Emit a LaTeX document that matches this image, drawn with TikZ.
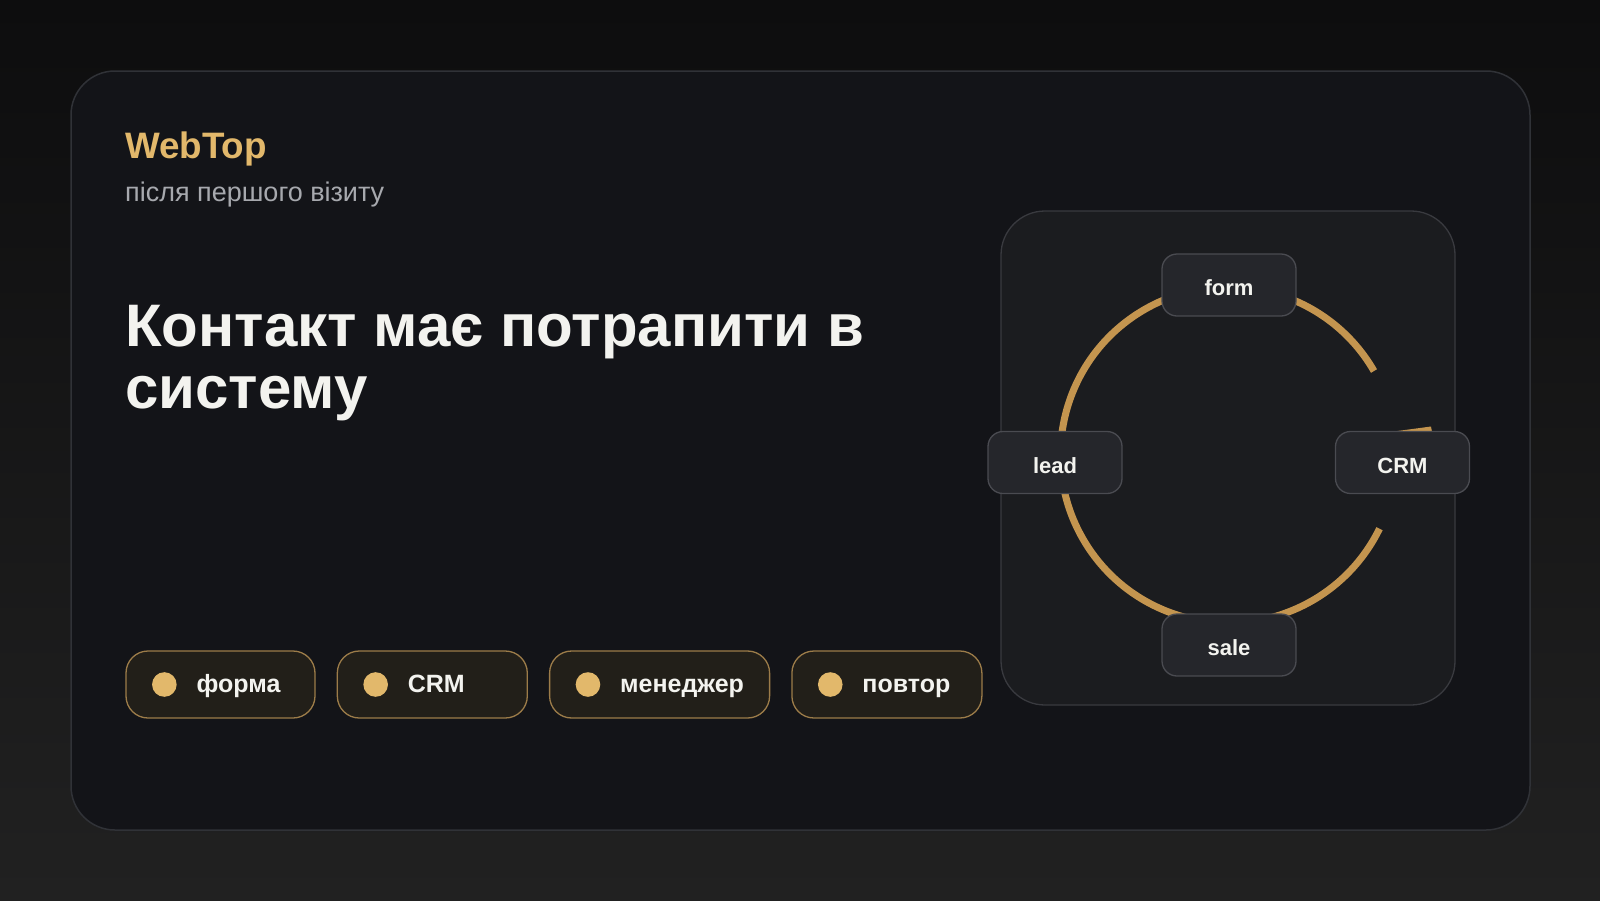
\documentclass[tikz,border=0pt]{standalone}
\usepackage{fontspec}
\setmainfont{Liberation Sans}
\usepackage{tikz}
\usetikzlibrary{calc,positioning}
\definecolor{bgtop}{HTML}{0D0D0E}
\definecolor{bgbot}{HTML}{212121}
\definecolor{cardfill}{HTML}{131418}
\definecolor{cardline}{HTML}{303237}
\definecolor{gold}{HTML}{E2B86B}
\definecolor{ringgold}{HTML}{C4954F}
\definecolor{chipfill}{HTML}{221F19}
\definecolor{chipline}{HTML}{9C7C49}
\definecolor{panelfill}{HTML}{1B1C1F}
\definecolor{panelline}{HTML}{393A3F}
\definecolor{boxfill}{HTML}{25262B}
\definecolor{boxline}{HTML}{4A4B51}
\definecolor{subgray}{HTML}{A7A9AE}
\definecolor{titlewhite}{HTML}{F3F3EF}
\tikzset{
    every node/.append style={font=\bfseries},
    chip/.style={draw=chipline, fill=chipfill, line width=1.3pt, rounded corners=22pt, minimum height=67pt, inner sep=0pt},
    chipdot/.style={circle, fill=gold, minimum size=24.6pt, inner sep=0pt},
    chiplabel/.style={anchor=base west, inner sep=0pt, text=titlewhite, font=\fontsize{25}{29}\selectfont\bfseries},
    stage/.style={draw=boxline, fill=boxfill, line width=1.3pt, rounded corners=15pt, minimum width=134pt, minimum height=62pt,
        text height=21.6pt, text depth=0pt, text=titlewhite, font=\fontsize{22}{25}\selectfont\bfseries}}

\begin{document}
\begin{tikzpicture}[x=1pt,y=-1pt]%[scale=.5]
    \useasboundingbox (0,0) rectangle (1600,900);
    \shade[top color=bgtop, bottom color=bgbot] (0,0) rectangle (1600,900);
    \draw[cardline, fill=cardfill, line width=1.5pt, rounded corners=44pt] (71,71) rectangle (1530,830);

    \node[anchor=base west, inner sep=0pt, text=gold, font=\fontsize{36.8}{42}\selectfont\bfseries] (brand) at (125,158.3) {WebTop};
    \node[anchor=base west, inner sep=0pt, text=subgray, font=\fontsize{27}{32}\selectfont] (sub) at (125,201.7) {після першого візиту};
    \node[anchor=base west, inner sep=0pt, text=titlewhite, align=left, font=\fontsize{60}{62}\selectfont\bfseries] (title) at (125,408) {Контакт має потрапити в\\систему};

    % chips
    \node[chip, minimum width=189pt] (c1) at (220.5,684.5) {};
    \node[chip, minimum width=190pt, right=21pt of c1] (c2) {};
    \node[chip, minimum width=220pt, right=21pt of c2] (c3) {};
    \node[chip, minimum width=190pt, right=21pt of c3] (c4) {};
    \foreach \n/\t in {c1/форма, c2/CRM, c3/менеджер, c4/повтор} {
        \node[chipdot] (\n-dot) at ([xshift=39pt]\n.west) {};
        \node[chiplabel] (\n-text) at ([shift={(32,8)}]\n-dot.center) {\t};
    }

    % cycle
    \draw[panelline, fill=panelfill, line width=1.3pt, rounded corners=44pt] (1001,211) rectangle (1455,705);
    \coordinate (c) at (1228.5,455);
    \draw[ringgold, line width=7pt] ([shift={(-30:168)}]c) arc[start angle=-30, end angle=-334, radius=168];
    \fill[ringgold] (1390,432) -- (1431,426.5) -- (1432,432) -- cycle;

    \node[stage] (form) at (1229,285) {form};
    \node[stage] (lead) at (1055,462.5) {lead};
    \node[stage] (crm) at (1402.5,462.5) {CRM};
    \node[stage] (sale) at (1229,645) {sale};
\end{tikzpicture}
\end{document}
